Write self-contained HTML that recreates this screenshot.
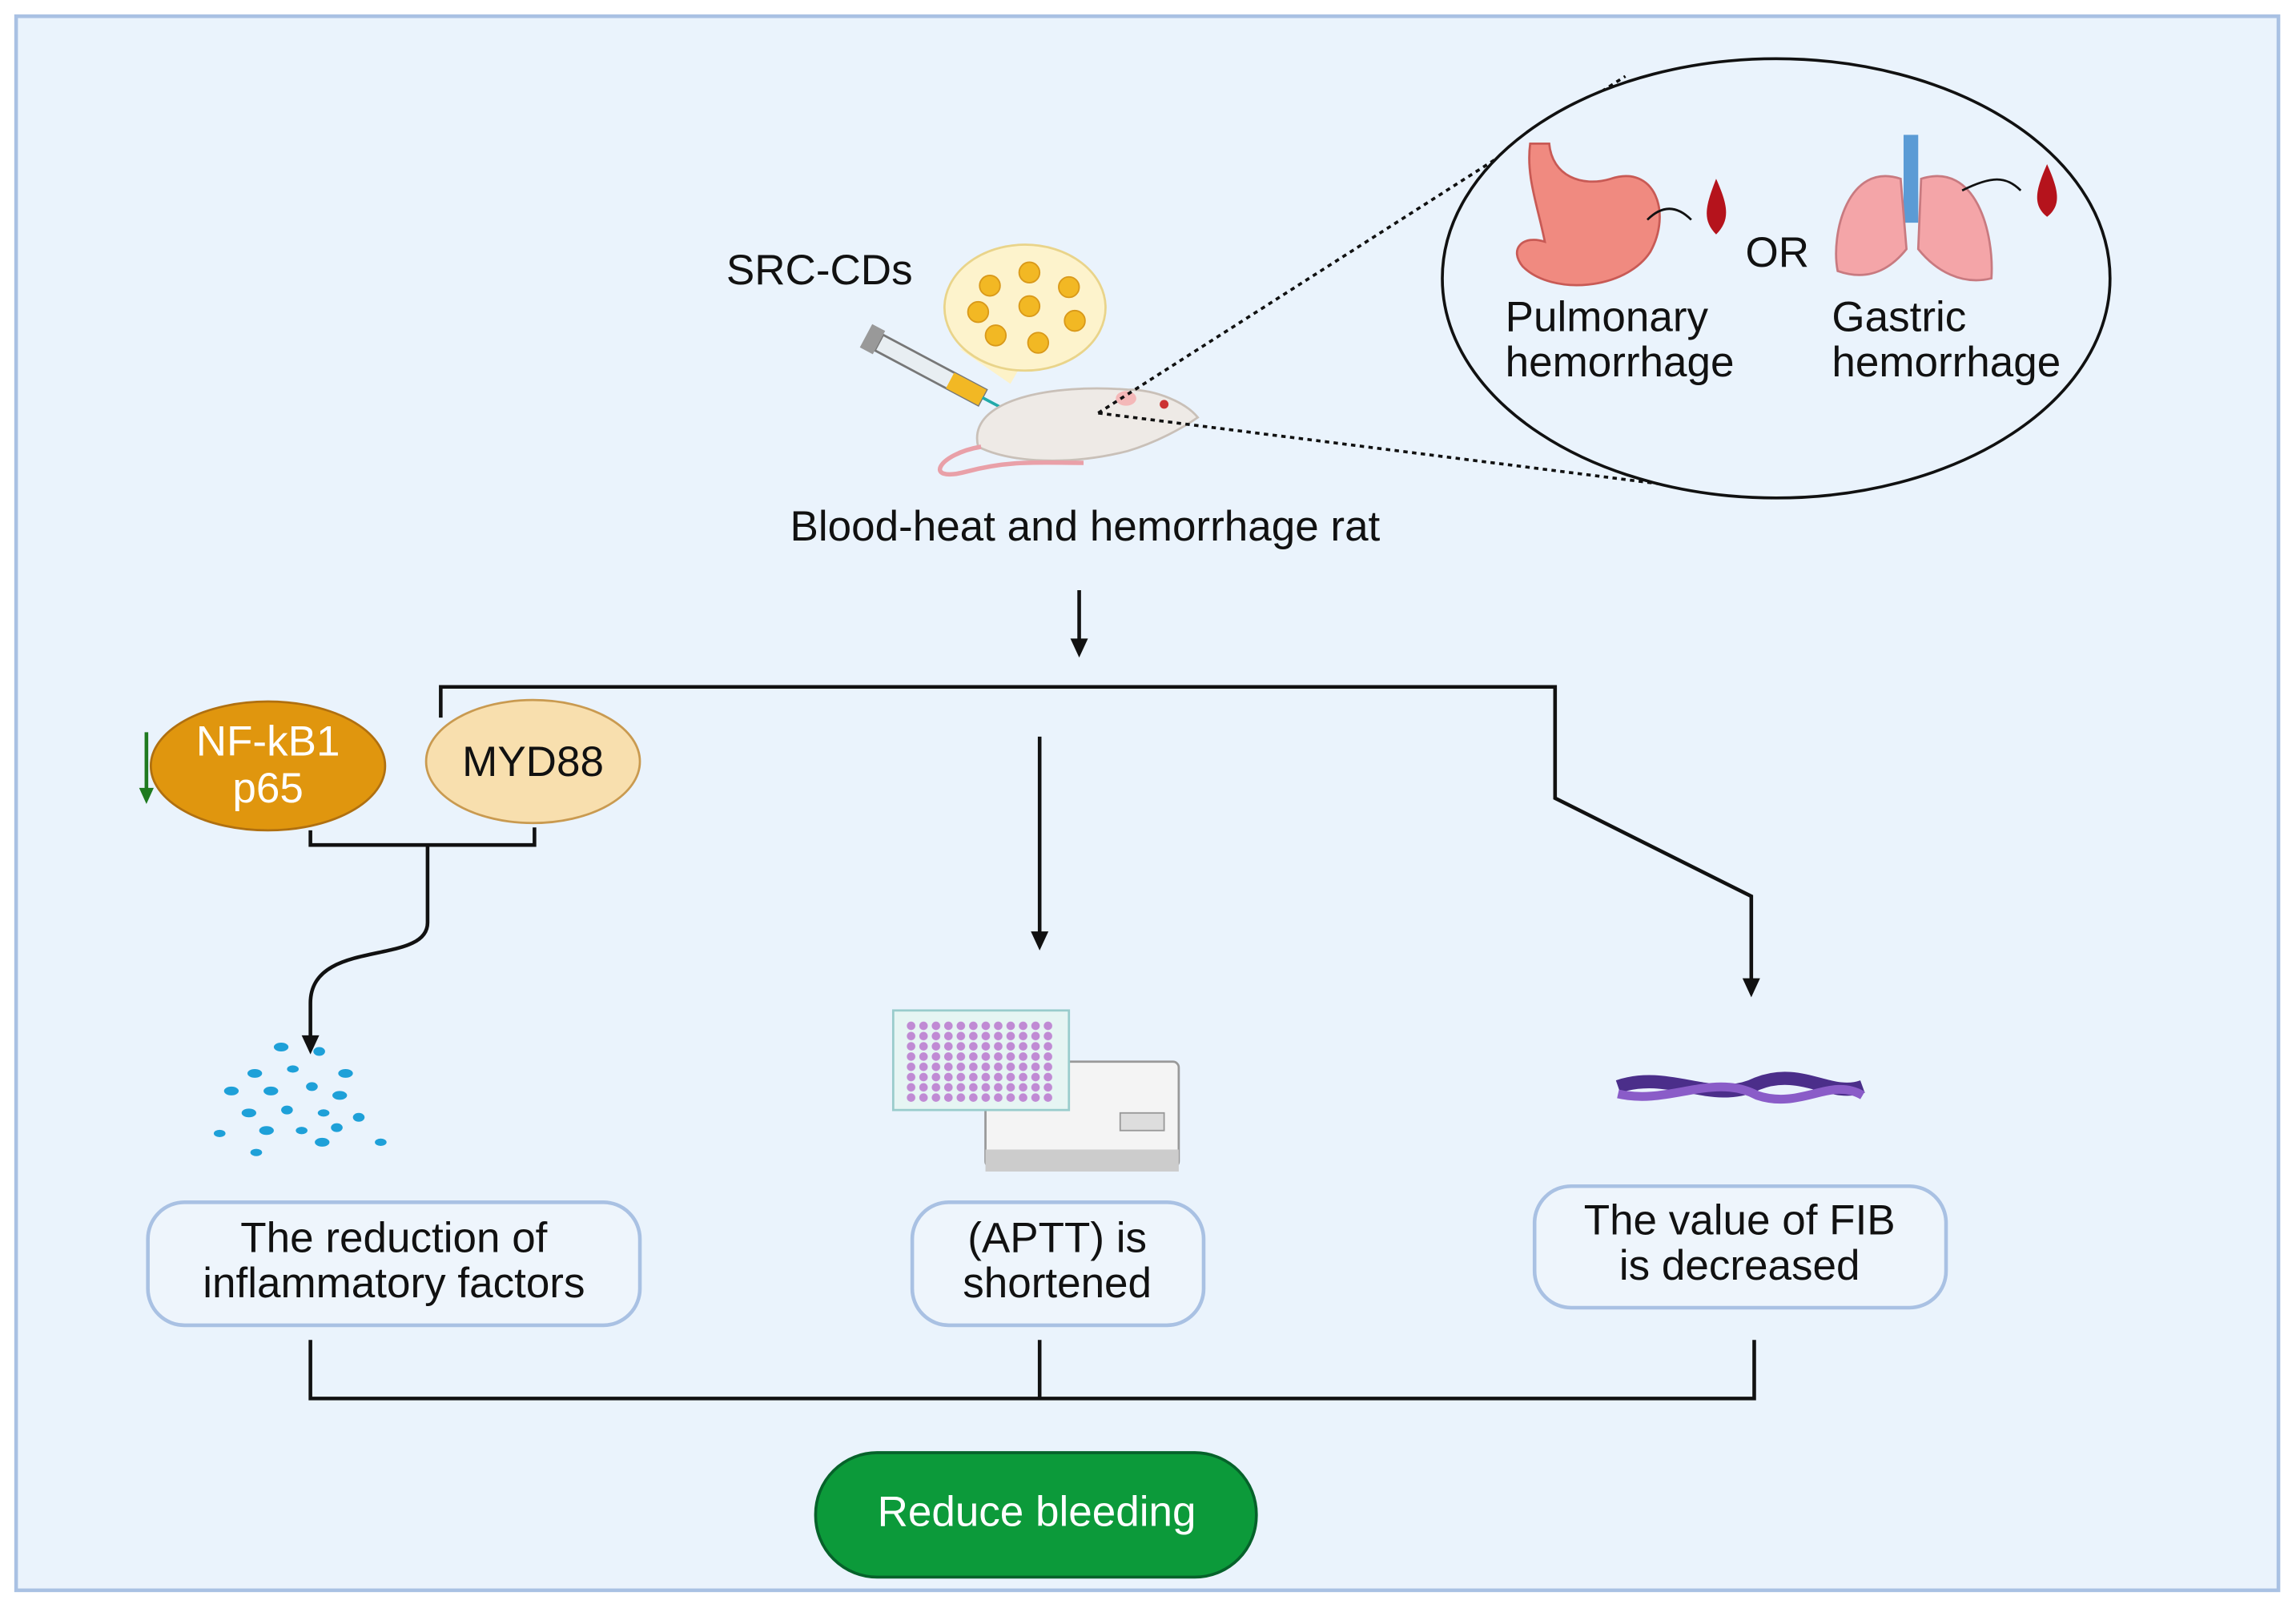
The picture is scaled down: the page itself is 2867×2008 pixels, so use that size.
<!DOCTYPE html>
<html><head><meta charset="utf-8"><style>
html,body{margin:0;padding:0;background:#fff;}
svg{display:block;}
text{font-family:"Liberation Sans",Arial,sans-serif;}
</style></head><body>
<svg width="2867" height="2008" viewBox="0 0 1568 1098" xmlns="http://www.w3.org/2000/svg">
<defs>
<pattern id="wells" x="618" y="697" width="8.5" height="7" patternUnits="userSpaceOnUse">
<circle cx="4.2" cy="3.5" r="2.9" fill="#c08ad4"/>
</pattern>
</defs>
<rect x="0" y="0" width="1568" height="1098" fill="#fff"/>
<rect x="11" y="11" width="1545" height="1075" fill="#eaf3fc" stroke="#a9c1e3" stroke-width="2.5"/>

<text x="496" y="194" font-size="29" fill="#111">SRC-CDs</text>
<path d="M655,238 L690,262 L700,245 z" fill="#fdf2c8"/>
<ellipse cx="700" cy="210" rx="55" ry="43" fill="#fdf3cc" stroke="#e9d48a" stroke-width="1.5"/>
<g fill="#f2b824" stroke="#d9991a" stroke-width="1">
<circle cx="676" cy="195" r="7"/><circle cx="703" cy="186" r="7"/><circle cx="730" cy="196" r="7"/>
<circle cx="668" cy="213" r="7"/><circle cx="703" cy="209" r="7"/><circle cx="734" cy="219" r="7"/>
<circle cx="680" cy="229" r="7"/><circle cx="709" cy="234" r="7"/>
</g>
<g transform="rotate(28 640 255)">
<rect x="595" y="249" width="80" height="12" fill="#e8eef2" stroke="#777" stroke-width="1.5"/>
<rect x="650" y="249" width="25" height="12" fill="#f2b824"/>
<rect x="585" y="246" width="10" height="18" fill="#999"/>
<line x1="675" y1="255" x2="710" y2="255" stroke="#2aa" stroke-width="2"/>
</g>
<path d="M668,305 C660,272 720,262 770,266 C790,266 810,275 818,285 C808,292 790,302 770,308 C730,318 690,316 668,305 z" fill="#eeeae6" stroke="#c9c0b8" stroke-width="1.5"/>
<circle cx="795" cy="276" r="3" fill="#c33"/>
<ellipse cx="769" cy="272" rx="7" ry="5" fill="#f4b8b8"/>
<path d="M670,305 C640,310 630,330 660,322 C690,314 710,316 740,316" fill="none" stroke="#e9a0a8" stroke-width="3"/>
<line x1="750" y1="282" x2="1110" y2="52" stroke="#111" stroke-width="2" stroke-dasharray="3,3"/>
<line x1="750" y1="282" x2="1210" y2="340" stroke="#111" stroke-width="2" stroke-dasharray="3,3"/>
<ellipse cx="1213" cy="190" rx="228" ry="150" fill="#eaf3fc" stroke="#111" stroke-width="2"/>
<path d="M1058,98 C1060,120 1080,128 1100,122 C1130,112 1142,145 1127,172 C1110,198 1060,202 1040,182 C1030,170 1040,160 1055,165 C1050,140 1042,120 1045,98 z" fill="#f08a80" stroke="#c85a55" stroke-width="1.5"/>
<path d="M1125,150 C1135,140 1145,140 1155,150" fill="none" stroke="#111" stroke-width="1.5"/>
<path d="M1172,122 C1165,140 1162,150 1172,160 C1182,150 1180,140 1172,122 z" fill="#b5131c"/>
<text x="1192" y="182" font-size="29" fill="#111">OR</text>
<rect x="1300" y="92" width="10" height="60" fill="#5b9bd5"/>
<path d="M1298,122 C1262,110 1250,160 1255,185 C1275,192 1290,185 1302,170 z" fill="#f4a5a8" stroke="#c87a80" stroke-width="1.5"/>
<path d="M1312,122 C1350,110 1362,160 1360,190 C1340,195 1322,185 1310,170 z" fill="#f4a5a8" stroke="#c87a80" stroke-width="1.5"/>
<path d="M1340,130 C1360,120 1370,120 1380,130" fill="none" stroke="#111" stroke-width="1.5"/>
<path d="M1398,112 C1390,130 1388,140 1398,148 C1408,140 1406,130 1398,112 z" fill="#b5131c"/>
<text font-size="29" fill="#111"><tspan x="1028" y="226">Pulmonary</tspan><tspan x="1028" y="257">hemorrhage</tspan></text>
<text font-size="29" fill="#111"><tspan x="1251" y="226">Gastric</tspan><tspan x="1251" y="257">hemorrhage</tspan></text>

<text x="741" y="369" font-size="29" fill="#111" text-anchor="middle">Blood-heat and hemorrhage rat</text>

<g fill="none" stroke="#111" stroke-width="2.5">
<line x1="737" y1="403" x2="737" y2="440"/>
<polyline points="301,490 301,469 1062,469 1062,545 1196,612 1196,672"/>
<line x1="710" y1="503" x2="710" y2="640"/>
<polyline points="212,567 212,577 365,577 365,565"/>
<path d="M292,577 L292,630 C292,660 212,640 212,685 L212,710"/>
<polyline points="212,915 212,955 1198,955 1198,915"/>
<line x1="710" y1="915" x2="710" y2="955"/>
</g>
<g fill="#111">
<path d="M731,436 L743,436 L737,449 z"/>
<path d="M704,636 L716,636 L710,649 z"/>
<path d="M1190,668 L1202,668 L1196,681 z"/>
<path d="M206,707 L218,707 L212,720 z"/>
</g>
<ellipse cx="183" cy="523" rx="80" ry="44" fill="#e0960e" stroke="#b07010" stroke-width="1.5"/>
<text font-size="29" fill="#fff" text-anchor="middle"><tspan x="183" y="516">NF-kB1</tspan><tspan x="183" y="548">p65</tspan></text>
<line x1="100" y1="500" x2="100" y2="540" stroke="#1f7a1f" stroke-width="2.5"/>
<path d="M95,538 L105,538 L100,549 z" fill="#1f7a1f"/>
<ellipse cx="364" cy="520" rx="73" ry="42" fill="#f8dfae" stroke="#c99a50" stroke-width="1.5"/>
<text x="364" y="530" font-size="29" fill="#111" text-anchor="middle">MYD88</text>
<g fill="#1ea0d8">
<ellipse cx="192" cy="715" rx="5" ry="3"/><ellipse cx="218" cy="718" rx="4" ry="3"/><ellipse cx="174" cy="733" rx="5" ry="3"/>
<ellipse cx="200" cy="730" rx="4" ry="2.5"/><ellipse cx="236" cy="733" rx="5" ry="3"/><ellipse cx="158" cy="745" rx="5" ry="3"/>
<ellipse cx="185" cy="745" rx="5" ry="3"/><ellipse cx="213" cy="742" rx="4" ry="3"/><ellipse cx="232" cy="748" rx="5" ry="3"/>
<ellipse cx="170" cy="760" rx="5" ry="3"/><ellipse cx="196" cy="758" rx="4" ry="3"/><ellipse cx="221" cy="760" rx="4" ry="2.5"/>
<ellipse cx="245" cy="763" rx="4" ry="3"/><ellipse cx="150" cy="774" rx="4" ry="2.5"/><ellipse cx="182" cy="772" rx="5" ry="3"/>
<ellipse cx="206" cy="772" rx="4" ry="2.5"/><ellipse cx="230" cy="770" rx="4" ry="3"/><ellipse cx="220" cy="780" rx="5" ry="3"/>
<ellipse cx="260" cy="780" rx="4" ry="2.5"/><ellipse cx="175" cy="787" rx="4" ry="2.5"/>
</g>
<rect x="673" y="725" width="132" height="72" rx="4" fill="#f4f4f4" stroke="#999" stroke-width="1.5"/>
<rect x="673" y="785" width="132" height="15" fill="#ccc"/>
<rect x="765" y="760" width="30" height="12" fill="#ddd" stroke="#999"/>
<rect x="610" y="690" width="120" height="68" fill="#e6f5f3" stroke="#9cc" stroke-width="1.5"/>
<rect x="618" y="697" width="102" height="56" fill="url(#wells)"/>
<path d="M1105,742 C1140,730 1170,755 1200,740 C1230,728 1250,750 1272,742" fill="none" stroke="#4b2e8a" stroke-width="9"/>
<path d="M1105,747 C1140,755 1170,732 1200,748 C1230,758 1250,735 1272,748" fill="none" stroke="#8a5cc8" stroke-width="6"/>
<rect x="101" y="821" width="336" height="84" rx="25" fill="#eef5fc" stroke="#a9c1e3" stroke-width="2.5"/>
<text font-size="29" fill="#111" text-anchor="middle"><tspan x="269" y="855">The reduction of</tspan><tspan x="269" y="886">inflammatory factors</tspan></text>
<rect x="623" y="821" width="199" height="84" rx="25" fill="#eef5fc" stroke="#a9c1e3" stroke-width="2.5"/>
<text font-size="29" fill="#111" text-anchor="middle"><tspan x="722" y="855">(APTT) is</tspan><tspan x="722" y="886">shortened</tspan></text>
<rect x="1048" y="810" width="281" height="83" rx="25" fill="#eef5fc" stroke="#a9c1e3" stroke-width="2.5"/>
<text font-size="29" fill="#111" text-anchor="middle"><tspan x="1188" y="843">The value of FIB</tspan><tspan x="1188" y="874">is decreased</tspan></text>
<rect x="557" y="992" width="301" height="85" rx="42" fill="#0c9a3a" stroke="#06622a" stroke-width="2"/>
<text x="708" y="1042" font-size="29" fill="#fff" text-anchor="middle">Reduce bleeding</text>
</svg>
</body></html>
